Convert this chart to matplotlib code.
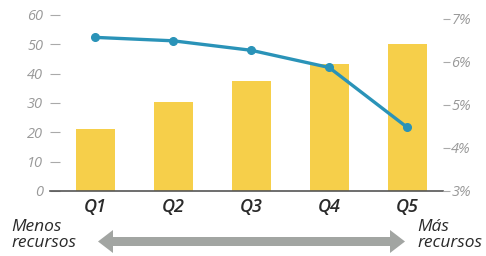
import matplotlib
matplotlib.use("Agg")
import matplotlib.pyplot as plt
from matplotlib.patches import Polygon

categories = ["Q1", "Q2", "Q3", "Q4", "Q5"]
bar_values = [21, 30.5, 37.5, 43.3, 50]
line_values = [6.57, 6.49, 6.27, 5.87, 4.48]
left_ticks = [0, 10, 20, 30, 40, 50, 60]
right_ticks = [3, 4, 5, 6, 7]
right_labels = ["3%", "4%", "5%", "6%", "7%"]

plt.rcParams['font.family'] = ['Open Sans', 'DejaVu Sans']

W, H = 486, 256
fig = plt.figure(figsize=(W/100, H/100), dpi=100)
ax = fig.add_axes([50/W, 65/H, 393/W, 176/H])
x = list(range(len(categories)))
ax.bar(x, bar_values, width=0.5, color="#f6cf4a", zorder=2)
ax.set_xlim(-0.58, 4.46)
ax.set_ylim(0, 60)
ax.set_yticks(left_ticks)
ax.set_yticklabels([str(t) for t in left_ticks], fontsize=10.5, color="#999999", style="italic")
ax.tick_params(axis="y", direction="in", length=7, width=0.8, color="#aaaaaa", pad=5)
ax.set_xticks(x)
ax.set_xticklabels(categories, fontsize=13, fontweight="semibold", style="italic", color="#2a2a2a")
ax.tick_params(axis="x", length=0, pad=5)
for s in ["top", "left", "right"]:
    ax.spines[s].set_visible(False)
ax.spines["bottom"].set_color("#555555")
ax.spines["bottom"].set_linewidth(1.2)

ax2 = ax.twinx()
ax2.plot(x, line_values, color="#2a93b8", lw=2.4, marker="o", markersize=5.5, zorder=3)
ax2.set_ylim(3, 7.09)
ax2.set_yticks(right_ticks)
ax2.set_yticklabels(right_labels, fontsize=10.5, color="#999999", style="italic")
ax2.tick_params(axis="y", direction="out", length=5, width=0.8, color="#aaaaaa", pad=1)
for s in ["top", "left", "right", "bottom"]:
    ax2.spines[s].set_visible(False)

# double-headed arrow (pixel geometry, converted to figure fraction)
cy = H - 241.5
xl, xr, hl, hw, sw = 98, 405, 15, 11.5, 4.5
pts = [(xl, cy), (xl + hl, cy + hw), (xl + hl, cy + sw), (xr - hl, cy + sw), (xr - hl, cy + hw),
       (xr, cy), (xr - hl, cy - hw), (xr - hl, cy - sw), (xl + hl, cy - sw), (xl + hl, cy - hw)]
arrow = Polygon([(px/W, py/H) for px, py in pts], closed=True, transform=fig.transFigure,
                facecolor="#a2a5a2", edgecolor="none")
fig.patches.append(arrow)

tkw = dict(fontsize=12.5, style="italic", color="#2a2a2a", va="center", ha="left")
fig.text(11/W, 1 - 227/H, "Menos", **tkw)
fig.text(11/W, 1 - 243/H, "recursos", **tkw)
fig.text(417/W, 1 - 227/H, "Más", **tkw)
fig.text(417/W, 1 - 243/H, "recursos", **tkw)

fig.savefig("out.png", dpi=100)
